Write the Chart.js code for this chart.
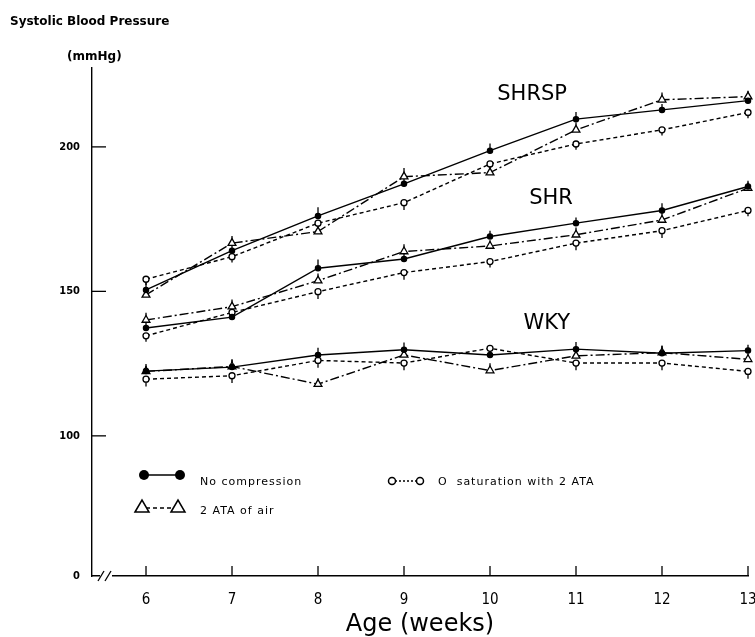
<!DOCTYPE html>
<html>
<head>
<meta charset="utf-8">
<script src="https://cdn.jsdelivr.net/npm/chart.js@4.4.1/dist/chart.umd.min.js"></script>
<style>
  html, body { margin: 0; padding: 0; background: #fff; }
  #wrap { width: 755px; height: 637px; position: relative; }
</style>
</head>
<body>
<div id="wrap"><canvas id="bp" width="755" height="637"></canvas></div>
<script>
// Age in weeks
const weeks = [6, 7, 8, 9, 10, 11, 12, 13];
// broken y axis: the lowest tick stands for 0
const yTicks = [51.5, 100, 150, 200];
const yTickLabels = ['0', '100', '150', '200'];

// systolic blood pressure (mmHg)
const shrspNoComp = [150.5, 164.1, 176.1, 187.2, 198.7, 209.6, 212.8, 216.0];
const shrspAir    = [148.8, 166.7, 170.7, 189.7, 191.1, 205.9, 216.3, 217.4];
const shrspO2     = [154.2, 162.0, 173.6, 180.7, 194.1, 201.0, 205.9, 211.9];
const shrNoComp   = [137.3, 141.1, 158.0, 161.2, 169.0, 173.6, 178.0, 186.3];
const shrAir      = [140.1, 144.7, 153.7, 163.8, 165.7, 169.6, 174.7, 185.7];
const shrO2       = [134.6, 142.7, 149.9, 156.5, 160.3, 166.7, 171.0, 178.0];
const wkyNoComp   = [122.4, 123.8, 128.0, 129.8, 128.0, 130.0, 128.6, 129.5];
const wkyAir      = [122.3, 124.0, 117.9, 128.0, 122.6, 127.7, 128.8, 126.5];
const wkyO2       = [119.6, 120.8, 126.1, 125.2, 130.3, 125.2, 125.2, 122.3];

// SD bars (mmHg)
const shrspNoCompSd = [2.5, 2.5, 3, 3, 2.5, 2.5, 2, 2];
const shrspAirSd    = [2.5, 2.5, 2.5, 3, 2.5, 2.5, 2.5, 2];
const shrspO2Sd     = [2, 2, 2.5, 2.5, 2.5, 2, 2, 2];
const shrNoCompSd   = [2, 2, 3, 2, 2, 2, 2.5, 2];
const shrAirSd      = [2.5, 2.5, 2.5, 2.5, 2, 2.5, 2.5, 2];
const shrO2Sd       = [2, 2, 2.5, 2.5, 2, 2.5, 2.5, 2];
const wkyNoCompSd   = [2.5, 2.5, 2.5, 2.5, 2, 2.5, 2.5, 2];
const wkyAirSd      = [2, 2.5, 2, 2, 2.5, 2, 2.5, 2];
const wkyO2Sd       = [2.5, 2.5, 2.5, 2.5, 2.5, 2.5, 2.5, 2.5];

const groupLabels = ['SHRSP', 'SHR', 'WKY'];

const styles = {
  none: { borderDash: [], pointStyle: 'circle', pointRadius: 2.6, pointBackgroundColor: '#000', errDir: 1 },
  air:  { borderDash: [9, 3, 2, 3], pointStyle: 'triangle', pointRadius: 4.5, pointBackgroundColor: '#fff', errDir: 1 },
  o2:   { borderDash: [4, 3], pointStyle: 'circle', pointRadius: 3, pointBackgroundColor: '#fff', errDir: -1 }
};

function series(label, values, sd, kind) {
  const s = styles[kind];
  return {
    label: label,
    data: weeks.map((w, i) => ({ x: w, y: values[i] })),
    sd: sd,
    errDir: s.errDir,
    borderColor: '#000',
    borderWidth: 1.4,
    borderDash: s.borderDash,
    pointStyle: s.pointStyle,
    pointRadius: s.pointRadius,
    pointBackgroundColor: s.pointBackgroundColor,
    pointBorderColor: '#000',
    pointBorderWidth: 1.3,
    tension: 0,
    clip: false
  };
}

// short vertical SD strokes, drawn under the markers
const errorBars = {
  id: 'errorBars',
  beforeDatasetsDraw(chart) {
    const ctx = chart.ctx;
    const y = chart.scales.y;
    ctx.save();
    ctx.strokeStyle = '#000';
    ctx.lineWidth = 1.3;
    chart.data.datasets.forEach((ds, di) => {
      const meta = chart.getDatasetMeta(di);
      meta.data.forEach((pt, i) => {
        const v = ds.data[i].y;
        const end = y.getPixelForValue(v + ds.errDir * ds.sd[i]);
        ctx.beginPath();
        ctx.moveTo(pt.x, pt.y);
        ctx.lineTo(pt.x, end);
        ctx.stroke();
      });
    });
    ctx.restore();
  }
};

// inward ticks, axis break, legend and text
const decor = {
  id: 'decor',
  afterDraw(chart) {
    const ctx = chart.ctx;
    const a = chart.chartArea;
    const xs = chart.scales.x, ys = chart.scales.y;
    ctx.save();
    ctx.strokeStyle = '#000';
    ctx.fillStyle = '#000';
    ctx.lineWidth = 1.3;

    // inward ticks
    weeks.forEach(w => {
      const px = xs.getPixelForValue(w);
      ctx.beginPath(); ctx.moveTo(px, a.bottom); ctx.lineTo(px, a.bottom - 10); ctx.stroke();
    });
    yTicks.slice(1).forEach(v => {
      const py = ys.getPixelForValue(v);
      ctx.beginPath(); ctx.moveTo(a.left, py); ctx.lineTo(a.left + 14, py); ctx.stroke();
    });

    // axis break
    ctx.fillStyle = '#fff';
    ctx.fillRect(a.left + 8, a.bottom - 3, 12, 6);
    ctx.fillStyle = '#000';
    [a.left + 8, a.left + 15].forEach(bx => {
      ctx.beginPath(); ctx.moveTo(bx - 2, a.bottom + 5); ctx.lineTo(bx + 4, a.bottom - 5); ctx.stroke();
    });

    // headings
    ctx.textBaseline = 'middle';
    ctx.textAlign = 'left';
    ctx.font = 'bold 12px "DejaVu Sans"';
    ctx.fillText('Systolic Blood Pressure', 10, 22);
    ctx.fillText('(mmHg)', 67, 57);

    // group labels
    ctx.font = '21px "DejaVu Sans"';
    ctx.textAlign = 'center';
    ctx.fillText(groupLabels[0], xs.getPixelForValue(10.49), ys.getPixelForValue(218));
    ctx.fillText(groupLabels[1], xs.getPixelForValue(10.71), ys.getPixelForValue(182));
    ctx.fillText(groupLabels[2], xs.getPixelForValue(10.66), ys.getPixelForValue(139));

    // legend
    ctx.lineWidth = 1.5;
    ctx.beginPath(); ctx.moveTo(144, 475); ctx.lineTo(180, 475); ctx.stroke();
    [144, 180].forEach(cx => { ctx.beginPath(); ctx.arc(cx, 475, 5, 0, Math.PI * 2); ctx.fill(); });

    ctx.setLineDash([4, 3]);
    ctx.beginPath(); ctx.moveTo(146, 508); ctx.lineTo(174, 508); ctx.stroke();
    ctx.setLineDash([]);
    [142, 178].forEach(cx => {
      ctx.beginPath(); ctx.moveTo(cx - 7, 512); ctx.lineTo(cx, 500); ctx.lineTo(cx + 7, 512); ctx.closePath();
      ctx.fillStyle = '#fff'; ctx.fill(); ctx.stroke();
    });
    ctx.fillStyle = '#000';

    ctx.setLineDash([2, 2]);
    ctx.beginPath(); ctx.moveTo(395, 481); ctx.lineTo(417, 481); ctx.stroke();
    ctx.setLineDash([]);
    [392, 420].forEach(cx => {
      ctx.beginPath(); ctx.arc(cx, 481, 3.5, 0, Math.PI * 2);
      ctx.fillStyle = '#fff'; ctx.fill(); ctx.stroke();
    });
    ctx.fillStyle = '#000';

    ctx.textAlign = 'left';
    ctx.font = '11px "DejaVu Sans"';
    ctx.letterSpacing = '1px';
    ctx.fillText('No compression', 200, 482);
    ctx.fillText('2 ATA of air', 200, 511);
    ctx.fillText('O  saturation with 2 ATA', 438, 482);
    ctx.restore();
  }
};

new Chart(document.getElementById('bp'), {
  type: 'line',
  data: {
    datasets: [
      series('SHRSP no compression', shrspNoComp, shrspNoCompSd, 'none'),
      series('SHRSP 2 ATA of air', shrspAir, shrspAirSd, 'air'),
      series('SHRSP O saturation', shrspO2, shrspO2Sd, 'o2'),
      series('SHR no compression', shrNoComp, shrNoCompSd, 'none'),
      series('SHR 2 ATA of air', shrAir, shrAirSd, 'air'),
      series('SHR O saturation', shrO2, shrO2Sd, 'o2'),
      series('WKY no compression', wkyNoComp, wkyNoCompSd, 'none'),
      series('WKY 2 ATA of air', wkyAir, wkyAirSd, 'air'),
      series('WKY O saturation', wkyO2, wkyO2Sd, 'o2')
    ]
  },
  options: {
    responsive: false,
    animation: false,
    layout: { padding: { top: 68, right: 7, left: 0, bottom: 0 } },
    plugins: {
      legend: { display: false },
      tooltip: { enabled: false }
    },
    scales: {
      x: {
        type: 'linear',
        min: 5.372,
        max: 13,
        afterFit: s => { s.height = 61; s.paddingLeft = 0; s.paddingRight = 0; },
        afterBuildTicks: s => { s.ticks = weeks.map(v => ({ value: v })); },
        grid: { display: false, drawTicks: false },
        border: { display: true, color: '#000', width: 1.4 },
        ticks: {
          color: '#000',
          padding: 15,
          maxRotation: 0,
          font: { family: '"Liberation Sans Narrow", "DejaVu Sans Condensed", sans-serif', size: 15 },
          callback: v => String(v)
        },
        title: {
          display: true,
          text: 'Age (weeks)',
          color: '#000',
          font: { family: '"DejaVu Sans"', size: 24, lineHeight: 1 },
          padding: { top: 0, bottom: 0 }
        }
      },
      y: {
        type: 'linear',
        min: 51.5,
        max: 227.3,
        afterFit: s => { s.width = 92; s.paddingTop = 0; s.paddingBottom = 0; },
        afterBuildTicks: s => { s.ticks = yTicks.map(v => ({ value: v })); },
        grid: { display: false, drawTicks: false },
        border: { display: true, color: '#000', width: 1.4 },
        ticks: {
          color: '#000',
          padding: 12,
          font: { family: '"DejaVu Sans Condensed", "DejaVu Sans"', size: 11, weight: 'bold' },
          callback: (v, i) => yTickLabels[i]
        }
      }
    }
  },
  plugins: [errorBars, decor]
});
</script>
</body>
</html>
